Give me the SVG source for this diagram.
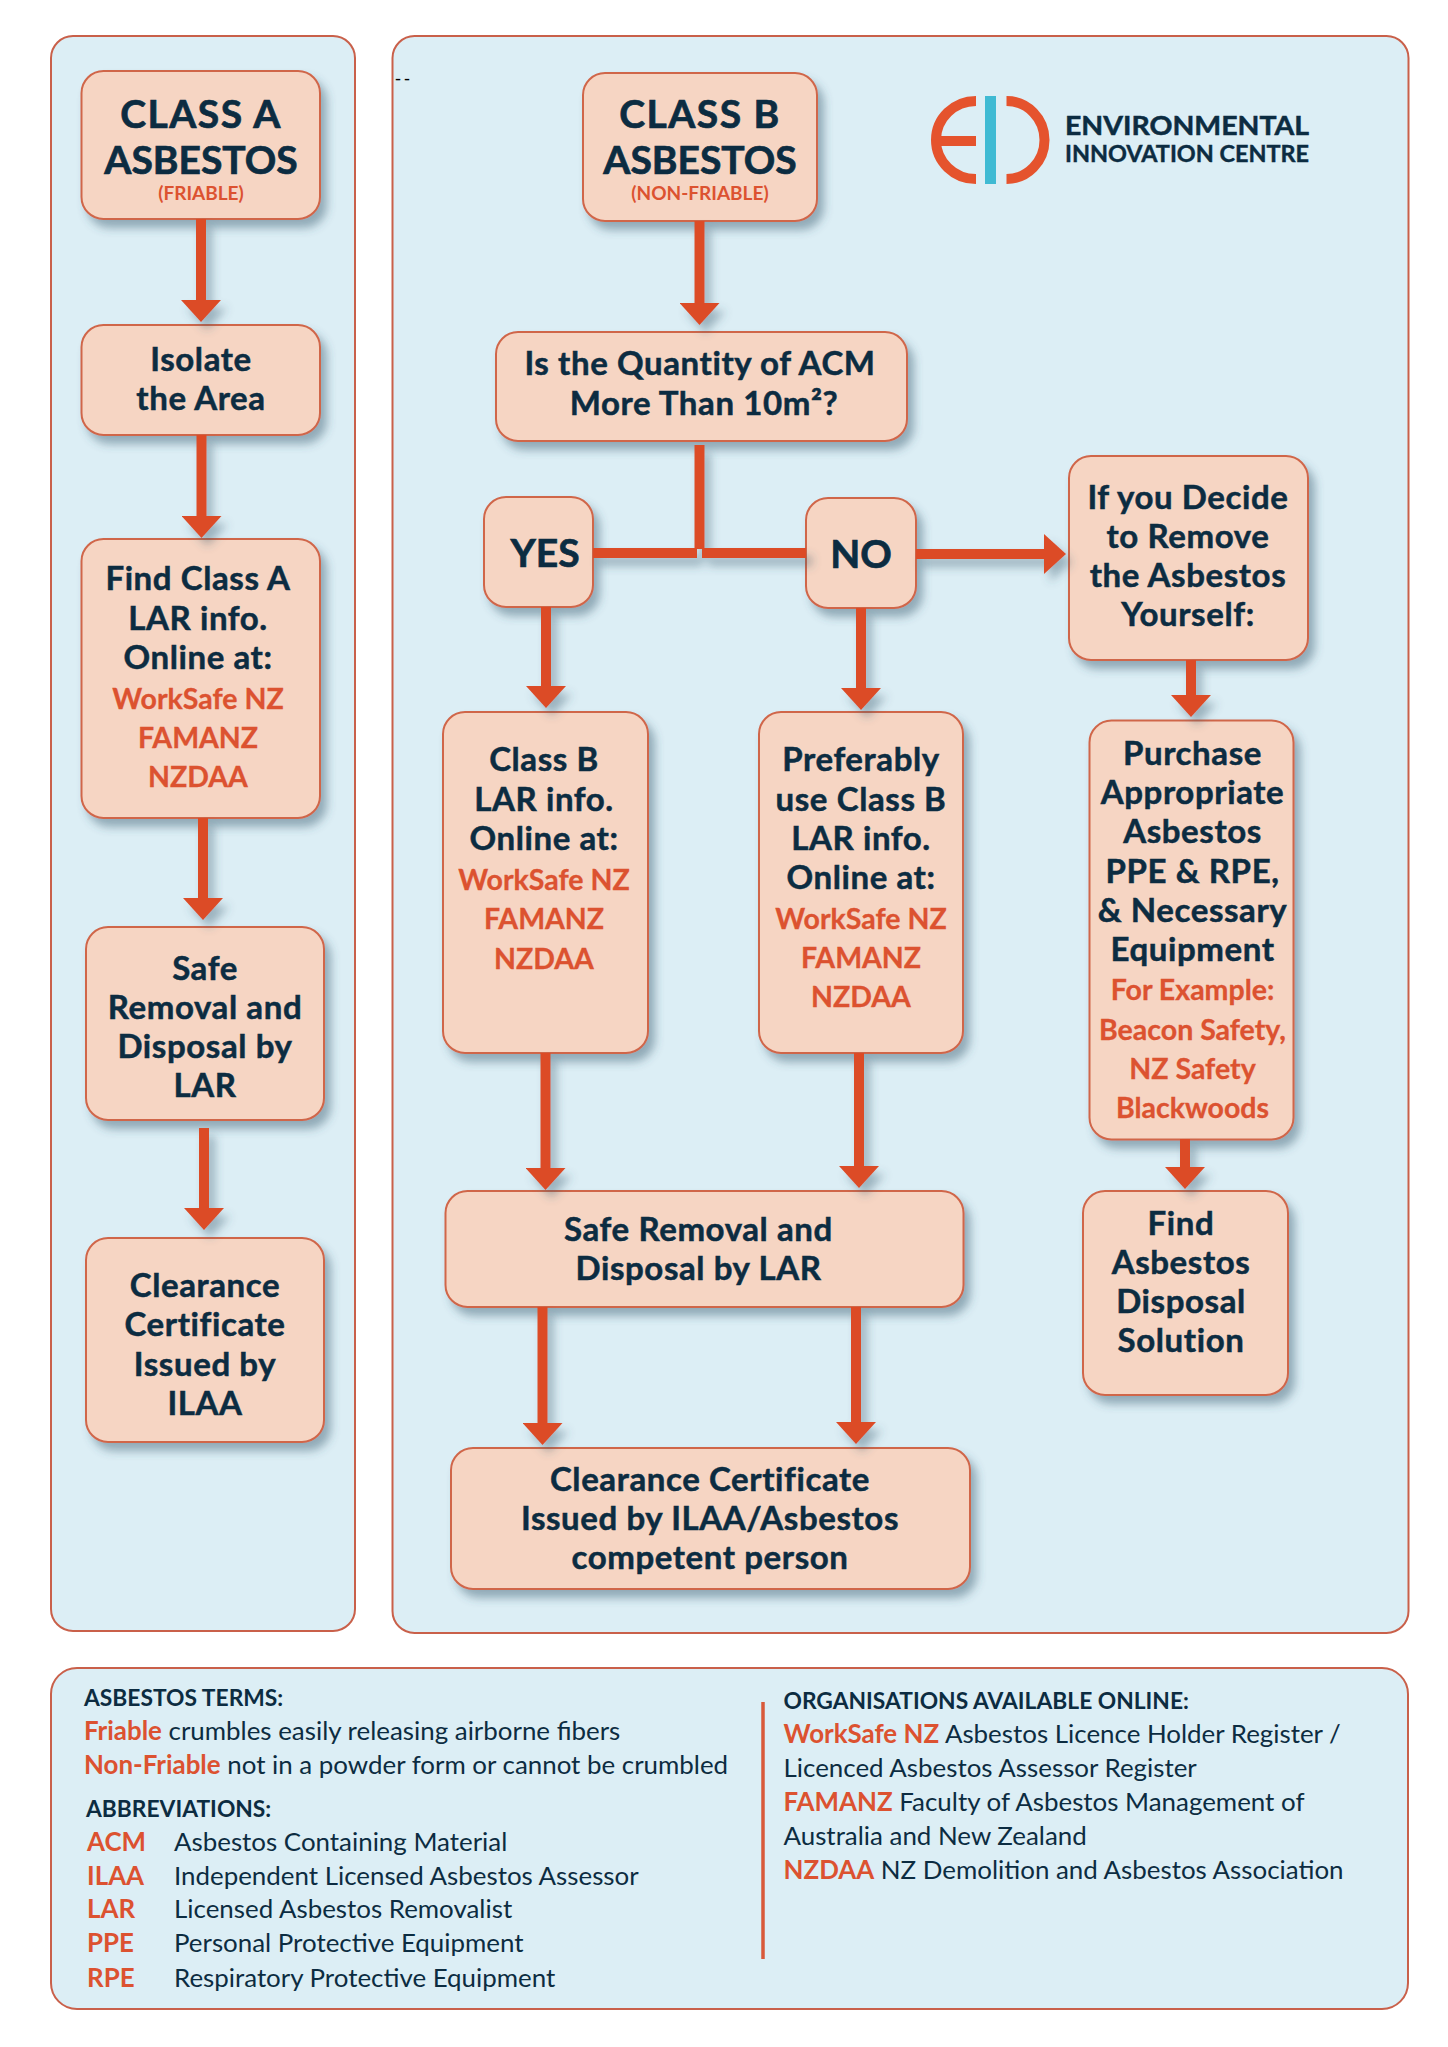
<svg xmlns="http://www.w3.org/2000/svg" width="1448" height="2047" viewBox="0 0 1448 2047">
<style>
text{font-family:"Lato","Liberation Sans",sans-serif;fill:#0c2c41}
.panel{fill:#dceef5;stroke:#c9604a;stroke-width:2}
.box{fill:#f6d5c3;stroke:#d0664a;stroke-width:2}
.t{font-size:33px;font-weight:700;text-anchor:middle;letter-spacing:.6px;stroke:#0c2c41;stroke-width:.5px}
.h{font-size:39px;font-weight:700;text-anchor:middle;stroke:#0c2c41;stroke-width:.7px}
.c{letter-spacing:1.500px}
.o{font-size:28.500px;font-weight:700;text-anchor:middle;fill:#dc5230;stroke:#dc5230;stroke-width:.3px}
.s{font-size:19px;font-weight:700;text-anchor:middle;fill:#dc5230}
.hd{font-size:22.800px;font-weight:700}
.b{font-size:25.900px;font-weight:400}
.k{font-weight:700;fill:#dc5230}
.line{fill:none;stroke:#dc4c27;stroke-width:10}
.hline{marker-end:url(#head)}
</style>
<defs>
<filter id="sh" x="-20%" y="-20%" width="150%" height="150%"><feDropShadow dx="6" dy="8" stdDeviation="5" flood-color="#35566a" flood-opacity=".45"/></filter>
<filter id="shc" filterUnits="userSpaceOnUse" x="0" y="0" width="1448" height="2047"><feDropShadow dx="6" dy="8" stdDeviation="5" flood-color="#35566a" flood-opacity=".4"/></filter>
<marker id="head" markerUnits="userSpaceOnUse" markerWidth="22" markerHeight="40" viewBox="0 0 22 40" refX="0" refY="20" orient="auto"><path d="M0 0L22 20L0 40Z" fill="#dc4c27"/></marker>
</defs>
<rect width="1448" height="2047" fill="#fff"/>
<g id="panels">
<rect class="panel" x="51" y="36" width="304" height="1595" rx="22"/>
<rect class="panel" x="392.500" y="36" width="1016" height="1597" rx="22"/>
<rect class="panel" x="51" y="1668" width="1357" height="341" rx="26"/>
</g>
<text x="395" y="85" style="font-size:18px;letter-spacing:3px;font-family:'Liberation Sans',sans-serif;fill:#000">--</text>
<g id="logo">
<path d="M976 101A40 39 0 0 0 976 179M936 141H976M1006.500 101A38 39 0 0 1 1006.500 179" fill="none" stroke="#e5532d" stroke-width="10"/>
<rect x="985" y="96" width="11" height="88" fill="#3fbad3"/>
<text x="1065" y="135" font-size="27" font-weight="700" stroke="#0c2c41" stroke-width=".5" textLength="244" lengthAdjust="spacingAndGlyphs">ENVIRONMENTAL</text>
<text x="1065" y="161.500" font-size="22.500" font-weight="700" stroke="#0c2c41" stroke-width=".4" textLength="244" lengthAdjust="spacingAndGlyphs">INNOVATION CENTRE</text>
</g>
<g id="class-a"><rect class="box" filter="url(#sh)" x="81.500" y="71" width="238.500" height="148" rx="22"/><text class="h c" x="201" y="127.500">CLASS A</text><text class="h" x="201" y="174">ASBESTOS</text><text class="s" x="201" y="199.500">(FRIABLE)</text></g>
<g id="isolate"><rect class="box" filter="url(#sh)" x="81.500" y="325" width="238.500" height="110" rx="22"/><text class="t" x="201" y="371">Isolate</text><text class="t" x="201" y="410">the Area</text></g>
<g id="find-a"><rect class="box" filter="url(#sh)" x="81.500" y="539" width="238.500" height="279" rx="22"/><text class="t" x="198" y="590">Find Class A</text><text class="t" x="198" y="630">LAR info.</text><text class="t" x="198" y="669">Online at:</text><text class="o" x="198" y="709">WorkSafe NZ</text><text class="o" x="198" y="748">FAMANZ</text><text class="o" x="198" y="787">NZDAA</text></g>
<g id="safe-a"><rect class="box" filter="url(#sh)" x="86" y="927" width="238" height="193" rx="22"/><text class="t" x="205" y="980">Safe</text><text class="t" x="205" y="1019">Removal and</text><text class="t" x="205" y="1058">Disposal by</text><text class="t" x="205" y="1097">LAR</text></g>
<g id="clear-a"><rect class="box" filter="url(#sh)" x="86" y="1238" width="238" height="204" rx="22"/><text class="t" x="205" y="1297">Clearance</text><text class="t" x="205" y="1336">Certificate</text><text class="t" x="205" y="1376">Issued by</text><text class="t" x="205" y="1415">ILAA</text></g>
<g id="class-b"><rect class="box" filter="url(#sh)" x="583" y="73" width="234" height="148" rx="22"/><text class="h c" x="700" y="127.500">CLASS B</text><text class="h" x="700" y="174">ASBESTOS</text><text class="s" x="700" y="199.500">(NON-FRIABLE)</text></g>
<g id="quantity"><rect class="box" filter="url(#sh)" x="496" y="332" width="411" height="109" rx="22"/><text class="t" x="700" y="375">Is the Quantity of ACM</text><text class="t" x="704" y="415">More Than 10m²?</text></g>
<g id="yes"><rect class="box" filter="url(#sh)" x="484" y="497" width="109" height="110" rx="22"/><text class="h" x="545" y="567">YES</text></g>
<g id="no"><rect class="box" filter="url(#sh)" x="806" y="498" width="110" height="110" rx="22"/><text class="h" x="861" y="568">NO</text></g>
<g id="yourself"><rect class="box" filter="url(#sh)" x="1069" y="456" width="239" height="204" rx="22"/><text class="t" x="1188" y="508.500">If you Decide</text><text class="t" x="1188" y="547.500">to Remove</text><text class="t" x="1188" y="586.500">the Asbestos</text><text class="t" x="1188" y="625.500">Yourself:</text></g>
<g id="class-b-lar"><rect class="box" filter="url(#sh)" x="443" y="712" width="205" height="341" rx="22"/><text class="t" x="544" y="771">Class B</text><text class="t" x="544" y="811">LAR info.</text><text class="t" x="544" y="850">Online at:</text><text class="o" x="544" y="890">WorkSafe NZ</text><text class="o" x="544" y="929">FAMANZ</text><text class="o" x="544" y="968.500">NZDAA</text></g>
<g id="preferably"><rect class="box" filter="url(#sh)" x="759" y="712" width="204" height="341" rx="22"/><text class="t" x="861" y="771">Preferably</text><text class="t" x="861" y="811">use Class B</text><text class="t" x="861" y="850">LAR info.</text><text class="t" x="861" y="889">Online at:</text><text class="o" x="861" y="929">WorkSafe NZ</text><text class="o" x="861" y="968">FAMANZ</text><text class="o" x="861" y="1007">NZDAA</text></g>
<g id="purchase"><rect class="box" filter="url(#sh)" x="1089.500" y="720.500" width="204" height="419" rx="22"/><text class="t" x="1192.500" y="765">Purchase</text><text class="t" x="1192.500" y="804">Appropriate</text><text class="t" x="1192.500" y="843">Asbestos</text><text class="t" x="1192.500" y="883">PPE &amp; RPE,</text><text class="t" x="1192.500" y="922">&amp; Necessary</text><text class="t" x="1192.500" y="961">Equipment</text><text class="o" x="1192.500" y="1000">For Example:</text><text class="o" x="1192.500" y="1039.500">Beacon Safety,</text><text class="o" x="1192.500" y="1078.500">NZ Safety</text><text class="o" x="1192.500" y="1117.500">Blackwoods</text></g>
<g id="safe-b"><rect class="box" filter="url(#sh)" x="445.500" y="1191" width="518" height="116" rx="22"/><text class="t" x="698.500" y="1241">Safe Removal and</text><text class="t" x="698.500" y="1280">Disposal by LAR</text></g>
<g id="disposal"><rect class="box" filter="url(#sh)" x="1083" y="1191" width="205" height="204" rx="22"/><text class="t" x="1181" y="1235">Find</text><text class="t" x="1181" y="1274">Asbestos</text><text class="t" x="1181" y="1313">Disposal</text><text class="t" x="1181" y="1352">Solution</text></g>
<g id="clear-b"><rect class="box" filter="url(#sh)" x="451" y="1448" width="519" height="141" rx="22"/><text class="t" x="710" y="1491">Clearance Certificate</text><text class="t" x="710" y="1530">Issued by ILAA/Asbestos</text><text class="t" x="710" y="1569">competent person</text></g>
<g id="connectors" filter="url(#shc)">
<path class="line hline" d="M201 219V300"/>
<path class="line hline" d="M201.500 435V516"/>
<path class="line hline" d="M203 818V898"/>
<path class="line hline" d="M204 1128V1208"/>
<path class="line hline" d="M699.500 221V303"/>
<path class="line" d="M699.500 445V549"/>
<path class="line" d="M593 553H697"/>
<path class="line" d="M702 553H806"/>
<path class="line hline" d="M546 607V686"/>
<path class="line hline" d="M861 608V688"/>
<path class="line hline" d="M916 554H1044"/>
<path class="line hline" d="M1191 660V695"/>
<path class="line hline" d="M545.500 1053V1168"/>
<path class="line hline" d="M859 1053V1166"/>
<path class="line hline" d="M1185 1139V1167"/>
<path class="line hline" d="M542.500 1307V1423"/>
<path class="line hline" d="M856 1307V1422"/>
</g>
<g id="legend">
<text class="hd" x="84" y="1706">ASBESTOS TERMS:</text>
<text class="b" x="84" y="1740"><tspan class="k">Friable</tspan> crumbles easily releasing airborne fibers</text>
<text class="b" x="84" y="1774"><tspan class="k">Non-Friable</tspan> not in a powder form or cannot be crumbled</text>
<text class="hd" x="86" y="1817">ABBREVIATIONS:</text>
<text class="b k" x="87" y="1851">ACM</text><text class="b" x="174" y="1851">Asbestos Containing Material</text>
<text class="b k" x="87" y="1885">ILAA</text><text class="b" x="174" y="1885">Independent Licensed Asbestos Assessor</text>
<text class="b k" x="87" y="1918">LAR</text><text class="b" x="174" y="1918">Licensed Asbestos Removalist</text>
<text class="b k" x="87" y="1952">PPE</text><text class="b" x="174" y="1952">Personal Protective Equipment</text>
<text class="b k" x="87" y="1987">RPE</text><text class="b" x="174" y="1987">Respiratory Protective Equipment</text>
<path d="M763 1702V1959" stroke="#d9593a" stroke-width="3.500" fill="none"/>
<text class="hd" x="783.500" y="1709">ORGANISATIONS AVAILABLE ONLINE:</text>
<text class="b" x="783.500" y="1743"><tspan class="k">WorkSafe NZ</tspan> Asbestos Licence Holder Register /</text>
<text class="b" x="783.500" y="1777">Licenced Asbestos Assessor Register</text>
<text class="b" x="783.500" y="1811"><tspan class="k">FAMANZ</tspan> Faculty of Asbestos Management of</text>
<text class="b" x="783.500" y="1845">Australia and New Zealand</text>
<text class="b" x="783.500" y="1879"><tspan class="k">NZDAA</tspan> NZ Demolition and Asbestos Association</text>
</g>
</svg>
